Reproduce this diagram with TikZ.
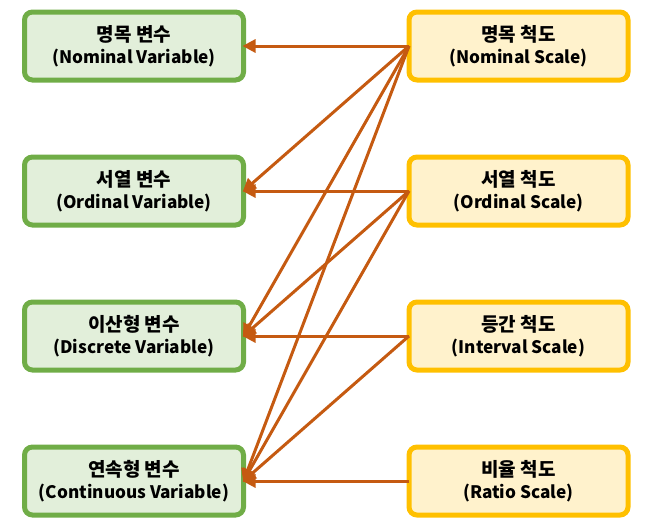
\documentclass[tikz,border=0pt]{standalone}
\usepackage{fontspec}
\newfontfamily\kr{Noto Sans CJK KR}
\usetikzlibrary{arrows.meta}
\definecolor{vgreen}{HTML}{70AD47}
\definecolor{vgreenfill}{HTML}{E2EFDA}
\definecolor{sorange}{HTML}{FFC000}
\definecolor{sorangefill}{HTML}{FFF2CC}
\definecolor{arr}{HTML}{C55A11}
\newcommand{\twol}[2]{{\fontsize{19pt}{22pt}\selectfont #1}\\[4.5pt]{\fontsize{17.2pt}{22pt}\selectfont #2}}
\tikzset{
  box/.style={rounded corners=8pt, line width=5pt, minimum width=219pt, minimum height=68pt,
    align=center, outer sep=0pt, inner sep=0pt, font=\kr\bfseries},
  varbox/.style={box, draw=vgreen, fill=vgreenfill},
  scalebox/.style={box, draw=sorange, fill=sorangefill},
  conn/.style={draw=arr, line width=3pt, -{Triangle[length=13pt,width=13pt]}, shorten >=-1pt}
}
\begin{document}
\begin{tikzpicture}[x=1pt,y=-1pt]
\useasboundingbox (0,0) rectangle (656,530);
\node[varbox] (v1) at (134,46) {\twol{명목 변수}{(Nominal Variable)}};
\node[varbox] (v2) at (134,191) {\twol{서열 변수}{(Ordinal Variable)}};
\node[varbox] (v3) at (134,336) {\twol{이산형 변수}{(Discrete Variable)}};
\node[varbox] (v4) at (134,481) {\twol{연속형 변수}{(Continuous Variable)}};
\node[scalebox] (s1) at (518.5,46) {\twol{명목 척도}{(Nominal Scale)}};
\node[scalebox] (s2) at (518.5,191) {\twol{서열 척도}{(Ordinal Scale)}};
\node[scalebox] (s3) at (518.5,336) {\twol{등간 척도}{(Interval Scale)}};
\node[scalebox] (s4) at (518.5,481) {\twol{비율 척도}{(Ratio Scale)}};
\foreach \s/\v in {s1/v1,s1/v2,s1/v3,s1/v4,s2/v2,s2/v3,s2/v4,s3/v3,s3/v4,s4/v4}
  \draw[conn] (\s.west) -- (\v.east);
\end{tikzpicture}
\end{document}
